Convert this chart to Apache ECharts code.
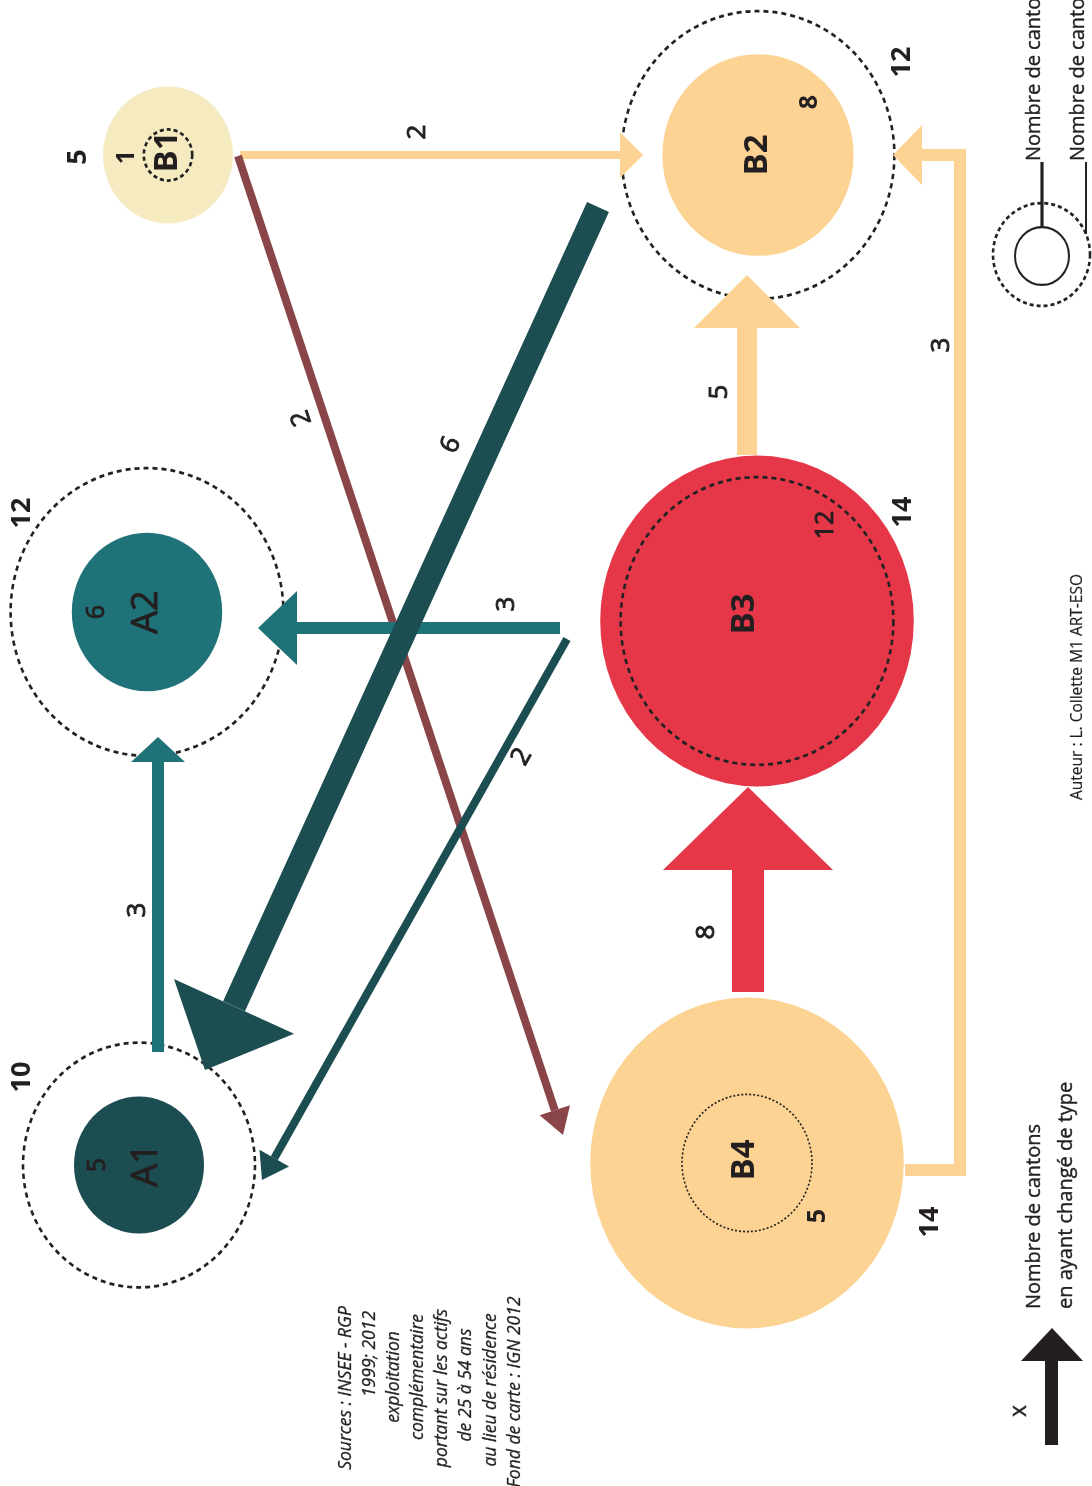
<!DOCTYPE html>
<html><head><meta charset="utf-8">
<script src="https://cdn.jsdelivr.net/npm/echarts@6/dist/echarts.min.js"></script>
<style>html,body{margin:0;padding:0;background:#fff}#chart{width:1092px;height:1486px}</style>
</head><body><div id="chart"></div>
<script>
// ---------- DATA ----------
const nodeNames = ['A1', 'A2', 'B1', 'B2', 'B3', 'B4'];
const cantons1999 = [5, 6, 1, 8, 12, 5];
const cantons2012 = [10, 12, 5, 12, 14, 14];
const flowFrom = ['B1', 'B1', 'B3', 'B4', 'B4', 'B3', 'B3', 'B2', 'A1'];
const flowTo   = ['B2', 'B4', 'B2', 'B3', 'B2', 'A2', 'A1', 'A1', 'A2'];
const flowValues = [2, 2, 5, 8, 3, 3, 2, 6, 3];
const sourceLines = ['Sources : INSEE - RGP', '1999; 2012', 'exploitation', 'complémentaire',
  'portant sur les actifs', 'de 25 à 54 ans', 'au lieu de résidence', 'Fond de carte : IGN 2012'];
const legendCircleLabels = ['Nombre de cantons en 1999', 'Nombre de cantons en 2012'];
const legendArrowLabels = ['Nombre de cantons', 'en ayant changé de type'];
const legendArrowSymbol = 'x';
const authorLabel = 'Auteur : L. Collette M1 ART-ESO';

// ---------- LAYOUT & STYLE ----------
const FONT = '"Open Sans", "Noto Sans", sans-serif';
const INK = '#231f20';
const STRETCH = 1.055;
const radius = v => 14 + 10.2 * v;       // circle radius scale
const flowWidth = v => 4 * v;            // arrow width scale

const nodeLayout = {
  A1: {x: 139, y: 1165, color: '#1c4d51', filledYear: 1999, nameWeight: 'medium', nameOff: [8, 0],   smallOff: [-41, 0],  bigOff: [-117, -88], smallWeight: 'medium', dash: [5, 4], dashW: 2.6},
  A2: {x: 147, y: 612,  color: '#1f7277', filledYear: 1999, nameWeight: 'medium', nameOff: [0, 0],   smallOff: [-50, 0],  bigOff: [-125, -99], smallWeight: 'medium', dash: [5, 4], dashW: 2.6},
  B1: {x: 168, y: 155,  color: '#f5eac0', filledYear: 2012, nameWeight: 'bold',   nameOff: [0, -3],  smallOff: [-41, 2],  bigOff: [-90, 2],    smallWeight: 'bold',   dash: [4, 3], dashW: 2.6},
  B2: {x: 758, y: 155,  color: '#fdd393', filledYear: 1999, nameWeight: 'bold',   nameOff: [0, 0],   smallOff: [52, -53], bigOff: [144, -93],  smallWeight: 'bold',   dash: [5, 4], dashW: 2.6},
  B3: {x: 757, y: 621,  color: '#e63748', filledYear: 2012, nameWeight: 'bold',   nameOff: [-12, -7],smallOff: [69, -96], bigOff: [146, -109], smallWeight: 'medium', dash: [5, 4], dashW: 2.6},
  B4: {x: 747, y: 1163, color: '#fdd393', filledYear: 2012, nameWeight: 'bold',   nameOff: [-2, -3], smallOff: [71, 53],  bigOff: [183, 59],   smallWeight: 'bold',   dash: [2, 2], dashW: 1.6}
};

const flowLayout = [
  {route: [[240, 155], [643, 155]],                               color: '#fdd393', head: [23, 23], label: [418, 132], along: false},
  {route: [[238, 156], [563, 1135]],                              color: '#8a4549', head: [26, 16], label: [302, 418], along: true},
  {route: [[747, 455], [747, 275]],                               color: '#fdd393', head: [53, 53], label: [720, 392], along: false},
  {route: [[748, 992], [748, 787]],                               color: '#e63748', head: [83, 85], label: [707, 932], along: false},
  {route: [[905, 1170], [960, 1170], [960, 155], [893, 155]],     color: '#fdd393', head: [29, 30], label: [942, 345], along: false},
  {route: [[560, 628], [258, 628]],                               color: '#1f7277', head: [39, 37], label: [507, 604], along: false},
  {route: [[567, 639], [262, 1180]],                              color: '#1c4d51', head: [25, 17], label: [522, 757], along: true},
  {route: [[598, 207], [205, 1070]],                              color: '#1c4d51', head: [70, 66], label: [451, 445], along: true},
  {route: [[158, 1052], [158, 737]],                              color: '#1f7277', head: [25, 27], label: [138, 910], along: false}
];

function txt(x, y, text, size, weight, rot) {
  const medium = weight === 'medium';
  const style = {text: text, fill: INK, fontSize: size, fontWeight: medium ? 'normal' : (weight || 'normal'), fontFamily: FONT,
    align: 'center', verticalAlign: 'middle', textAlign: 'center', textVerticalAlign: 'middle'};
  if (medium) { style.stroke = INK; style.lineWidth = 0.9; }
  return {type: 'text', x: x, y: y, rotation: rot === undefined ? Math.PI / 2 : rot, style: style};
}

function renderNode(params, api) {
  const i = params.dataIndex;
  const L = nodeLayout[nodeNames[i]];
  const c = api.coord([api.value(0), api.value(1)]);
  const v99 = api.value(2), v12 = api.value(3);
  const filledV = L.filledYear === 2012 ? v12 : v99;
  const dashedV = L.filledYear === 2012 ? v99 : v12;
  const small = Math.min(v99, v12), big = Math.max(v99, v12);
  return {
    type: 'group',
    children: [
      {type: 'circle', x: c[0], y: c[1], scaleY: STRETCH, shape: {cx: 0, cy: 0, r: radius(filledV)}, style: {fill: L.color}},
      {type: 'circle', x: c[0], y: c[1], scaleY: STRETCH, shape: {cx: 0, cy: 0, r: radius(dashedV)},
        style: {fill: 'none', stroke: '#222', lineWidth: L.dashW, lineDash: L.dash}},
      txt(c[0] + L.nameOff[0], c[1] + L.nameOff[1], nodeNames[i], nodeNames[i][0] === 'A' ? 36 : 33, L.nameWeight),
      txt(c[0] + L.smallOff[0], c[1] + L.smallOff[1], String(small), 25, L.smallWeight),
      txt(c[0] + L.bigOff[0], c[1] + L.bigOff[1], String(big), 27, 'bold')
    ]
  };
}

function renderFlow(params, api) {
  const i = params.dataIndex;
  const F = flowLayout[i];
  const pts = F.route.map(p => api.coord(p));
  const w = flowWidth(flowValues[i]);
  const tip = pts[pts.length - 1], prev = pts[pts.length - 2];
  let dx = tip[0] - prev[0], dy = tip[1] - prev[1];
  const len = Math.hypot(dx, dy); dx /= len; dy /= len;
  const base = [tip[0] - dx * F.head[0], tip[1] - dy * F.head[0]];
  const px = -dy, py = dx;
  const shaft = pts.slice(0, -1).concat([base]);
  const head = [tip, [base[0] + px * F.head[1], base[1] + py * F.head[1]], [base[0] - px * F.head[1], base[1] - py * F.head[1]]];
  let rot = Math.PI / 2;
  if (F.along) {
    let ux = tip[0] - pts[0][0], uy = tip[1] - pts[0][1];
    if (uy > 0) { ux = -ux; uy = -uy; }
    rot = Math.atan2(-uy, ux);
  }
  const lp = api.coord(F.label);
  return {
    type: 'group',
    children: [
      {type: 'polyline', shape: {points: shaft}, style: {stroke: F.color, lineWidth: w, fill: 'none', lineJoin: 'miter', lineCap: 'butt'}},
      {type: 'polygon', shape: {points: head}, style: {fill: F.color}},
      txt(lp[0], lp[1], String(flowValues[i]), 26, 'medium', rot)
    ]
  };
}

// ---------- LEGEND / ANNOTATIONS ----------
const graphics = [];
function gtext(x, y, t, size, align, extra) {
  return {type: 'text', x: x, y: y, rotation: Math.PI / 2,
    style: Object.assign({text: t, fill: INK, fontSize: size, fontFamily: FONT, align: align, verticalAlign: 'middle',
      textAlign: align, textVerticalAlign: 'middle', stroke: INK, lineWidth: 0.4}, extra || {})};
}
graphics.push({type: 'circle', x: 1041.5, y: 254.5, scaleY: 1.06, shape: {cx: 0, cy: 0, r: 48.5}, style: {fill: 'none', stroke: '#222', lineWidth: 2.6, lineDash: [4, 3]}});
graphics.push({type: 'circle', x: 1042, y: 256, scaleY: 1.07, shape: {cx: 0, cy: 0, r: 27}, style: {fill: 'none', stroke: '#222', lineWidth: 2}});
graphics.push({type: 'line', shape: {x1: 1042, y1: 228, x2: 1042, y2: 162}, style: {stroke: '#222', lineWidth: 3.2}});
graphics.push({type: 'line', shape: {x1: 1086, y1: 234, x2: 1086, y2: 162}, style: {stroke: '#222', lineWidth: 2}});
legendCircleLabels.forEach((t, k) => graphics.push(gtext(1034 + k * 44, 161, t, 20, 'left')));
graphics.push({type: 'rect', shape: {x: 1045, y: 1359, width: 13, height: 86}, style: {fill: '#231f20'}});
graphics.push({type: 'polygon', shape: {points: [[1052, 1328], [1021, 1361], [1083, 1361]]}, style: {fill: '#231f20'}});
graphics.push(gtext(1019, 1411, legendArrowSymbol, 23, 'center'));
legendArrowLabels.forEach((t, k) => graphics.push(gtext(1034 + k * 32, 1309, t, 20, 'left')));
graphics.push(gtext(1078, 687, authorLabel, 15.5, 'center', {lineWidth: 0.2}));
const srcCenters = [1388, 1354, 1377, 1377, 1388, 1385, 1390, 1392];
sourceLines.forEach((t, k) => graphics.push(gtext(346 + k * 24.1, srcCenters[k], t, 17.5, 'center', {fontStyle: 'italic', lineWidth: 0.3})));

const chart = echarts.init(document.getElementById('chart'), null, {renderer: 'canvas'});
chart.setOption({
  backgroundColor: '#ffffff',
  animation: false,
  grid: {left: 0, right: 0, top: 0, bottom: 0},
  xAxis: {type: 'value', min: 0, max: 1092, show: false},
  yAxis: {type: 'value', min: 0, max: 1486, inverse: true, show: false},
  series: [
    {type: 'custom', name: 'cantons', coordinateSystem: 'cartesian2d', z: 1,
      data: nodeNames.map((n, i) => [nodeLayout[n].x, nodeLayout[n].y, cantons1999[i], cantons2012[i]]),
      renderItem: renderNode},
    {type: 'custom', name: 'flux', coordinateSystem: 'cartesian2d', z: 2,
      data: flowValues.map((v, i) => [flowLayout[i].route[0][0], flowLayout[i].route[0][1], v, flowFrom[i] + '→' + flowTo[i]]),
      renderItem: renderFlow}
  ],
  graphic: graphics
});
</script></body></html>
